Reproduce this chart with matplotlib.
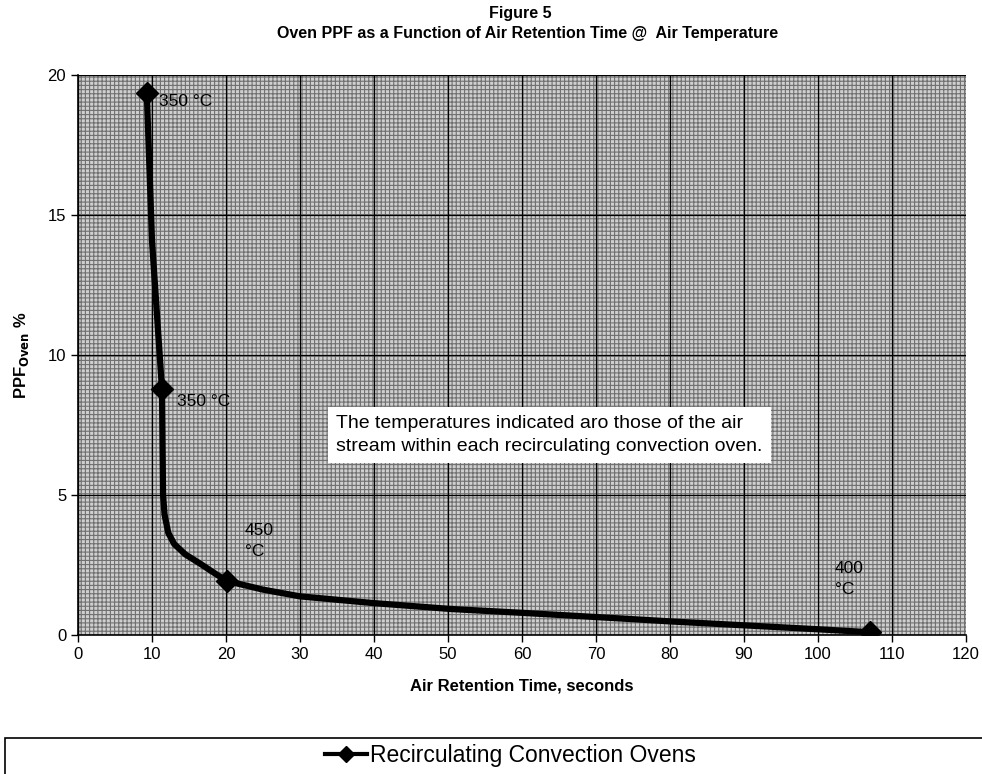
import matplotlib
matplotlib.use("Agg")
import matplotlib.pyplot as plt
from matplotlib.patches import Rectangle
from matplotlib.lines import Line2D

plt.rcParams['font.family'] = ['Liberation Sans', 'DejaVu Sans']
plt.rcParams['hatch.linewidth'] = 0.8

# Data
retention_time = [9.3, 10.0, 11.35, 11.5, 11.7, 12.2, 13.0, 14.5, 16.5, 18.5, 20.1,
                  25.0, 30.0, 39.9, 50.3, 60.1, 70.1, 80.4, 90.4, 100.3, 107.0]
ppf_oven = [19.36, 14.1, 8.79, 5.0, 4.3, 3.65, 3.25, 2.88, 2.55, 2.2, 1.93,
            1.62, 1.38, 1.14, 0.93, 0.79, 0.64, 0.48, 0.34, 0.2, 0.10]
marker_idx = [0, 2, 10, 20]
point_labels = ["350 °C", "350 °C", "450\n°C", "400\n°C"]
series_name = "Recirculating Convection Ovens"
x_ticks = list(range(0, 121, 10))
y_ticks = [0, 5, 10, 15, 20]

fig = plt.figure(figsize=(9.82, 7.74), dpi=100)
ax = fig.add_axes([0.0794, 0.1796, 0.9043, 0.7235])
ax.set_xlim(0, 120)
ax.set_ylim(0, 20)
ax.set_facecolor('#cfcfcf')
ax.add_patch(Rectangle((0, 0), 1, 1, transform=ax.transAxes, facecolor='none',
                       edgecolor='#707070', linewidth=0, hatch='++++', zorder=0.5))
ax.set_xticks(x_ticks)
ax.set_yticks(y_ticks)
ax.grid(True, color='black', linewidth=0.9, zorder=1)
ax.set_axisbelow(True)
for s in ['top', 'right']:
    ax.spines[s].set_visible(False)
for s in ['left', 'bottom']:
    ax.spines[s].set_linewidth(1.2)
ax.tick_params(axis='both', labelsize=12, length=5, width=1, direction='out')

ax.plot(retention_time, ppf_oven, color='black', linewidth=4.5,
        marker='D', markersize=11, markevery=marker_idx, solid_capstyle='round',
        solid_joinstyle='round', zorder=3)

# point labels
offsets = [(9, -6), (11, -9), (13, 29), (-25, 38)]
for i, lab, off in zip(marker_idx, point_labels, offsets):
    ax.annotate(lab, (retention_time[i], ppf_oven[i]), xytext=off,
                textcoords='offset points', fontsize=12.5, va='center', ha='left',
                linespacing=1.5, zorder=4)

ax.text(0.291, 0.357,
        "The temperatures indicated aro those of the air\nstream within each recirculating convection oven.",
        transform=ax.transAxes, fontsize=14, ha='left', va='center', linespacing=1.45,
        bbox=dict(facecolor='white', edgecolor='none', pad=6), zorder=4)

ax.set_xlabel("Air Retention Time, seconds", fontsize=12, fontweight='bold', labelpad=12)
ax.set_ylabel("PPF$_{\\mathbf{Oven}}$ %", fontsize=12, fontweight='bold', labelpad=12)

fig.text(0.53, 0.983, "Figure 5", ha='center', va='center', fontsize=11.5, fontweight='bold')
fig.text(0.537, 0.957, "Oven PPF as a Function of Air Retention Time @  Air Temperature",
         ha='center', va='center', fontsize=11.5, fontweight='bold')

# legend frame and legend
fig.add_artist(Rectangle((0.005, -0.01), 1.0, 0.057, transform=fig.transFigure,
                         facecolor='white', edgecolor='black', linewidth=1.2))
handle = Line2D([], [], color='black', linewidth=3, marker='D', markersize=8)
fig.legend([handle], [series_name], loc='center', bbox_to_anchor=(0.52, 0.024),
           frameon=False, fontsize=16.5, handlelength=1.8, handletextpad=0.15)

fig.savefig("out.png", dpi=100)
